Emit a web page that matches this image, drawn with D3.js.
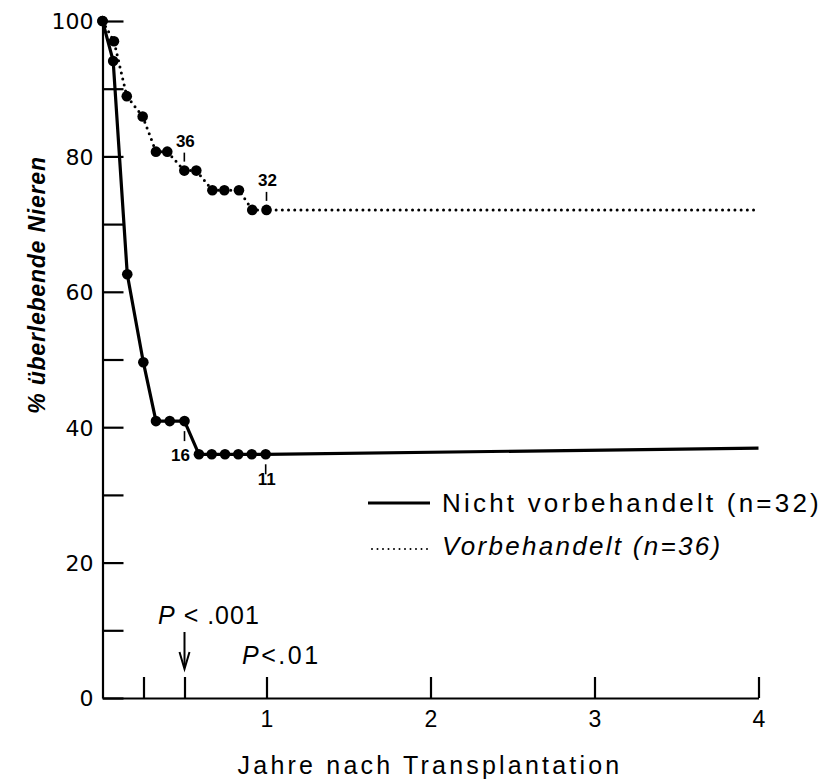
<!DOCTYPE html>
<html>
<head>
<meta charset="utf-8">
<script src="https://cdn.jsdelivr.net/npm/d3@7"></script>
<style>
  body { margin: 0; background: #fff; }
  svg { display: block; }
  text { font-family: "Liberation Sans", Arial, sans-serif; fill: #000; }
  .axis path, .axis line { stroke: #000; stroke-width: 2.2; }
  .axis text { font-family: "DejaVu Sans", sans-serif; font-size: 22px; }
  .axis.x text { font-family: "Liberation Sans", Arial, sans-serif; font-size: 23px; }
</style>
</head>
<body>
<svg id="chart" width="825" height="783"></svg>
<script>
// Jahre nach Transplantation / % überlebende Nieren
const nichtYears = [0, 0.065, 0.151, 0.249, 0.326, 0.41, 0.50, 0.588, 0.666, 0.747, 0.828, 0.91, 0.995, 4.0];
const nichtPct   = [100, 94.1, 62.6, 49.6, 40.9, 40.9, 40.9, 36.0, 36.0, 36.0, 36.0, 36.0, 36.0, 36.9];
const nichtDots  = 13; // last point is the line end, no dot

const vorYears = [0, 0.07, 0.148, 0.245, 0.326, 0.395, 0.499, 0.572, 0.67, 0.743, 0.832, 0.913, 1.0, 4.0];
const vorPct   = [100, 97.0, 88.9, 85.9, 80.7, 80.7, 77.9, 77.9, 75.0, 75.0, 75.0, 72.1, 72.1, 72.1];
const vorDots  = 13;

const yTicks = [0, 10, 20, 30, 40, 50, 60, 70, 80, 90, 100];
const xTicks = [0.25, 0.5, 1, 2, 3, 4];

// n at risk labels
const riskLabels = [
  { year: 0.499, pct: 77.9, text: "36", above: true },
  { year: 1.0, pct: 72.1, text: "32", above: true },
  { year: 0.5, pct: 40.9, text: "16", above: false },
  { year: 0.995, pct: 36.0, text: "11", above: false },
];

const legendItems = [
  { label: "Nicht vorbehandelt (n=32)", dotted: false },
  { label: "Vorbehandelt (n=36)", dotted: true },
];

const svg = d3.select("#chart");
const x = d3.scaleLinear().domain([0, 4]).range([102.5, 758.5]);
const y = d3.scaleLinear().domain([0, 100]).range([698, 21]);

// axes
svg.append("g").attr("class", "axis")
  .attr("transform", `translate(${x(0)},0)`)
  .call(d3.axisLeft(y).tickValues(yTicks).tickSizeInner(-21).tickSizeOuter(0).tickPadding(9)
    .tickFormat(d => d % 20 === 0 ? d : ""))
  .call(ax => ax.selectAll("text").attr("dy", "0.36em"));

svg.append("g").attr("class", "axis x")
  .attr("transform", `translate(0,${y(0)})`)
  .call(d3.axisBottom(x).tickValues(xTicks).tickSizeInner(-21).tickSizeOuter(0).tickPadding(13)
    .tickFormat(d => Number.isInteger(d) ? d : ""));

// series
const line = d3.line().x(d => x(d[0])).y(d => y(d[1]));
const nicht = nichtYears.map((v, i) => [v, nichtPct[i]]);
const vor   = vorYears.map((v, i) => [v, vorPct[i]]);

svg.append("path").datum(vor)
  .attr("d", line).attr("fill", "none").attr("stroke", "#000")
  .attr("stroke-width", 3).attr("stroke-linecap", "round")
  .attr("stroke-dasharray", "0 6.2");

svg.append("path").datum(nicht)
  .attr("d", line).attr("fill", "none").attr("stroke", "#000")
  .attr("stroke-width", 3.2).attr("stroke-linejoin", "round");

svg.append("g").selectAll("circle")
  .data(vor.slice(0, vorDots).concat(nicht.slice(0, nichtDots)))
  .join("circle")
  .attr("cx", d => x(d[0])).attr("cy", d => y(d[1])).attr("r", 5.3)
  .attr("fill", "#000");

// risk labels
const rl = svg.append("g").selectAll("g").data(riskLabels).join("g")
  .attr("transform", d => `translate(${x(d.year)},${y(d.pct)})`);
rl.append("line")
  .attr("x1", 0).attr("x2", 0)
  .attr("y1", d => d.above ? -9 : 10)
  .attr("y2", d => d.above ? -18 : 20)
  .attr("stroke", "#000").attr("stroke-width", 1.6);
rl.append("text")
  .attr("x", d => d.text === "16" ? -4 : 1)
  .attr("y", d => d.above ? -24 : (d.text === "16" ? 40 : 31))
  .attr("text-anchor", "middle")
  .attr("font-size", 17).attr("font-weight", "bold")
  .text(d => d.text);

// legend
const lg = svg.append("g").selectAll("g").data(legendItems).join("g")
  .attr("transform", (d, i) => `translate(368,${503 + i * 45})`);
lg.append("line")
  .attr("x1", d => d.dotted ? 4 : 0).attr("x2", d => d.dotted ? 60 : 62)
  .attr("y1", d => d.dotted ? 1 : 0).attr("y2", d => d.dotted ? 1 : 0)
  .attr("stroke", "#000")
  .attr("stroke-width", d => d.dotted ? 2 : 3)
  .attr("stroke-linecap", d => d.dotted ? "round" : "butt")
  .attr("stroke-dasharray", d => d.dotted ? "0 5.5" : null);
lg.append("text")
  .attr("x", 74).attr("y", d => d.dotted ? 7 : 9)
  .attr("font-size", 26)
  .attr("letter-spacing", d => d.dotted ? 2.3 : 3.2)
  .attr("font-style", d => d.dotted ? "italic" : "normal")
  .text(d => d.label);

// P values
const p1 = svg.append("text").attr("x", 158).attr("y", 624).attr("font-size", 25).attr("letter-spacing", 1);
p1.append("tspan").attr("font-style", "italic").text("P");
p1.append("tspan").text(" < .001");
const p2 = svg.append("text").attr("x", 242).attr("y", 664).attr("font-size", 25).attr("letter-spacing", 2.5);
p2.append("tspan").attr("font-style", "italic").text("P");
p2.append("tspan").text("<.01");

// arrow
svg.append("line").attr("x1", x(0.5)).attr("x2", x(0.5)).attr("y1", 632).attr("y2", 666)
  .attr("stroke", "#000").attr("stroke-width", 2);
svg.append("path")
  .attr("d", `M${x(0.5) - 5},${652} L${x(0.5)},${669} L${x(0.5) + 5},${652}`)
  .attr("fill", "none").attr("stroke", "#000").attr("stroke-width", 2);

// axis titles
svg.append("text")
  .attr("transform", "translate(45,285) rotate(-90)")
  .attr("text-anchor", "middle")
  .attr("font-size", 23).attr("font-weight", "bold").attr("font-style", "italic")
  .attr("letter-spacing", 0.8)
  .text("%  überlebende  Nieren");

svg.append("text")
  .attr("x", 430).attr("y", 774)
  .attr("text-anchor", "middle")
  .attr("font-size", 25).attr("letter-spacing", 3.2)
  .text("Jahre nach Transplantation");
</script>
</body>
</html>
